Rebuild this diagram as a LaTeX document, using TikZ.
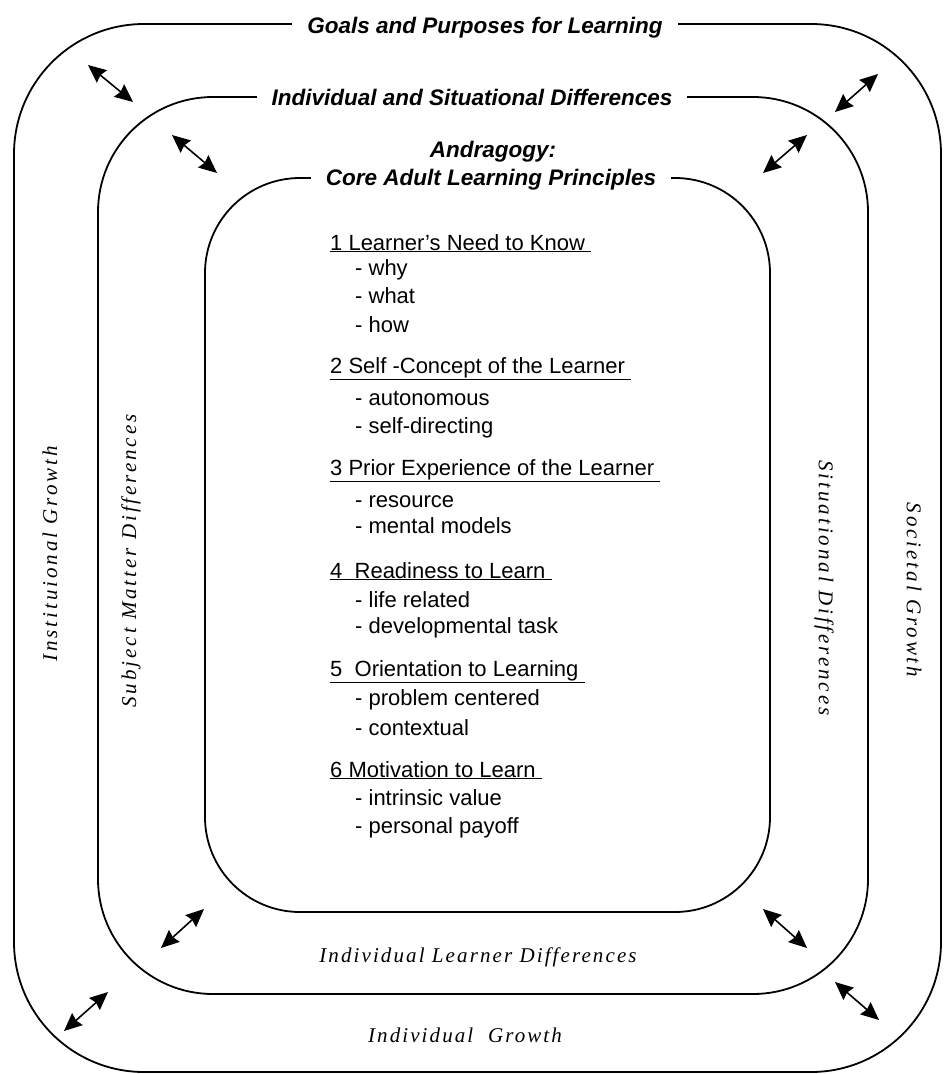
\documentclass[tikz,border=0pt]{standalone}
\usepackage{fontspec}
\setmainfont{Liberation Serif}
\setsansfont{Liberation Sans}
\newfontfamily\spacedserif[LetterSpace=10]{Liberation Serif}
\newfontfamily\widerserif[LetterSpace=14]{Liberation Serif}
\usetikzlibrary{arrows.meta}

\tikzset{
  frame/.style={line width=1.8pt, rounded corners=#1},
  ringtitle/.style={fill=white, inner xsep=15pt, inner ysep=3pt, anchor=base,
    font=\sffamily\bfseries\itshape\fontsize{22.5}{26}\selectfont},
  sidelabel/.style={inner sep=0pt, font=\spacedserif\itshape\fontsize{21}{24}\selectfont},
  uplabel/.style={inner sep=0pt, font=\widerserif\itshape\fontsize{21}{24}\selectfont},
  principle/.style={anchor=base west, inner sep=0pt, font=\sffamily\fontsize{22}{25}\selectfont},
  twoway/.style={line width=1.6pt, {Stealth[length=18pt,width=16pt,inset=2pt]}-{Stealth[length=18pt,width=16pt,inset=2pt]}},
}

\begin{document}
\begin{tikzpicture}[x=1pt,y=-1pt]
  \useasboundingbox (0,0) rectangle (945,1074);

  % the three rings
  \draw[frame=130pt] (14,24) rectangle (941,1072);
  \draw[frame=115pt] (98,97) rectangle (868,994);
  \draw[frame=95pt] (205,178) rectangle (770,912);

  % titles sitting on the rings
  \node[ringtitle] (goals) at (485,33) {Goals and Purposes for Learning};
  \node[ringtitle] (isd) at (472,105) {Individual and Situational Differences};
  \node[ringtitle, fill=none] (andra) at (493,157) {Andragogy:};
  \node[ringtitle] (core) at (491,185) {Core Adult Learning Principles};

  % side labels
  \node[uplabel, rotate=90] (inst) at (50,554) {Instituional Growth};
  \node[uplabel, rotate=90] (subj) at (131,561) {Subject Matter Differences};
  \node[uplabel, rotate=-90] (sitd) at (824,588) {Situational Differences};
  \node[uplabel, rotate=-90] (soc) at (914,590) {Societal Growth};
  \node[sidelabel, anchor=base] (ild) at (478,962) {Individual Learner Differences};
  \node[sidelabel, anchor=base] (ig) at (465,1042) {Individual\ \ Growth};

  % six principles
  \node[principle] (p1) at (330,250) {\underline{1 Learner's Need to Know\ }};
  \node[principle] (p2) at (330,373) {\underline{2 Self -Concept of the Learner\ }};
  \node[principle] (p3) at (330,475) {\underline{3 Prior Experience of the Learner\ }};
  \node[principle] (p4) at (330,578) {\underline{4\ \ Readiness to Learn\ }};
  \node[principle] (p5) at (330,676) {\underline{5\ \ Orientation to Learning\ }};
  \node[principle] (p6) at (330,777) {\underline{6 Motivation to Learn\ }};

  \foreach \n/\y/\txt in {a/275/why, b/303/what, c/332/how,
      d/405/autonomous, e/433/self-directing,
      f/507/resource, g/533/mental models,
      h/607/life related, i/633/developmental task,
      j/705/problem centered, k/735/contextual,
      l/805/intrinsic value, m/833/personal payoff}
    \node[principle] (item\n) at (355,\y) {- \txt};

  % arrows between the rings
  \foreach \n/\xa/\ya/\xb/\yb in {1/88/65/133/102, 2/172/135/217/173,
      3/878/74/835/112, 4/807/135/763/173,
      5/204/909/161/948, 6/108/992/64/1031,
      7/763/909/807/948, 8/835/982/879/1020}{
    \coordinate (s\n) at (\xa,\ya);
    \coordinate (e\n) at (\xb,\yb);
    \draw[twoway] (s\n) -- (e\n);
  }
\end{tikzpicture}
\end{document}
